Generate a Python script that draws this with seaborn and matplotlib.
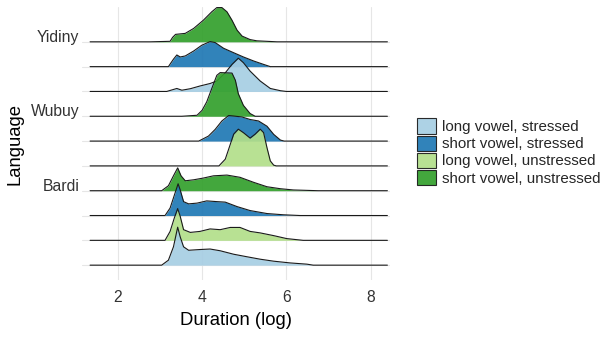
import matplotlib
matplotlib.use("Agg")
import matplotlib.pyplot as plt
import seaborn as sns
import pandas as pd
from matplotlib.patches import Patch

# ridge profiles: duration (log) and ridge height (in row units)
yid_short_unstr_x = [2.77, 3.24, 3.30, 3.37, 3.60, 3.80, 4.03, 4.23, 4.35, 4.47, 4.59, 4.71, 4.83, 4.95, 5.14, 5.30, 5.78]
yid_short_unstr_h = [0.00, 0.02, 0.18, 0.30, 0.34, 0.54, 0.87, 1.21, 1.38, 1.38, 1.21, 0.87, 0.47, 0.23, 0.09, 0.04, 0.00]

yid_short_str_x = [3.20, 3.32, 3.40, 3.48, 3.60, 3.80, 3.99, 4.19, 4.31, 4.51, 4.75, 4.98, 5.22, 5.46, 5.62]
yid_short_str_h = [0.00, 0.30, 0.47, 0.39, 0.43, 0.63, 0.86, 1.01, 0.97, 0.74, 0.56, 0.39, 0.23, 0.09, 0.00]

yid_long_str_x = [3.16, 3.32, 3.40, 3.52, 3.72, 3.95, 4.19, 4.35, 4.55, 4.71, 4.86, 4.98, 5.14, 5.38, 5.62, 5.86, 6.00]
yid_long_str_h = [0.00, 0.08, 0.12, 0.05, 0.11, 0.22, 0.32, 0.42, 0.75, 1.09, 1.34, 1.16, 0.82, 0.42, 0.12, 0.03, 0.00]

wub_short_unstr_x = [3.52, 3.88, 4.00, 4.11, 4.23, 4.35, 4.43, 4.71, 4.79, 4.86, 4.98, 5.14, 5.26]
wub_short_unstr_h = [0.00, 0.04, 0.24, 0.58, 1.12, 1.65, 1.76, 1.74, 1.45, 0.91, 0.44, 0.11, 0.00]

wub_short_str_x = [3.92, 4.15, 4.31, 4.47, 4.63, 4.75, 4.95, 5.14, 5.34, 5.54, 5.70, 5.86, 5.95]
wub_short_str_h = [0.00, 0.20, 0.47, 0.81, 1.03, 1.01, 0.97, 0.87, 0.81, 0.60, 0.27, 0.04, 0.00]

wub_long_unstr_x = [4.40, 4.55, 4.63, 4.75, 4.86, 4.98, 5.14, 5.26, 5.38, 5.46, 5.54, 5.62, 5.70, 5.76]
wub_long_unstr_h = [0.00, 0.27, 0.67, 1.28, 1.48, 1.34, 1.12, 1.28, 1.48, 1.34, 0.74, 0.20, 0.03, 0.00]

bar_short_unstr_x = [3.04, 3.20, 3.32, 3.42, 3.50, 3.60, 3.80, 4.03, 4.27, 4.59, 4.90, 5.22, 5.54, 5.86, 6.17, 6.76]
bar_short_unstr_h = [0.00, 0.20, 0.60, 0.92, 0.60, 0.40, 0.44, 0.51, 0.60, 0.63, 0.54, 0.34, 0.16, 0.08, 0.03, 0.00]

bar_short_str_x = [3.12, 3.24, 3.37, 3.43, 3.48, 3.56, 3.68, 3.88, 4.11, 4.35, 4.55, 4.83, 5.14, 5.54, 5.93, 6.33]
bar_short_str_h = [0.00, 0.30, 0.97, 1.28, 1.03, 0.56, 0.47, 0.50, 0.59, 0.56, 0.54, 0.36, 0.20, 0.08, 0.03, 0.00]

bar_long_unstr_x = [3.12, 3.24, 3.34, 3.42, 3.48, 3.56, 3.72, 3.95, 4.19, 4.43, 4.67, 4.90, 5.14, 5.38, 5.70, 6.01, 6.40]
bar_long_unstr_h = [0.00, 0.36, 0.90, 1.28, 0.97, 0.43, 0.32, 0.36, 0.46, 0.43, 0.52, 0.52, 0.36, 0.30, 0.19, 0.07, 0.00]

bar_long_str_x = [3.04, 3.20, 3.32, 3.42, 3.48, 3.56, 3.68, 3.95, 4.19, 4.43, 4.75, 5.06, 5.38, 5.70, 6.09, 6.49, 6.64]
bar_long_str_h = [0.00, 0.20, 0.74, 1.53, 1.14, 0.74, 0.60, 0.63, 0.65, 0.58, 0.44, 0.34, 0.24, 0.16, 0.09, 0.04, 0.00]

groups = ['long vowel, stressed', 'short vowel, stressed',
          'long vowel, unstressed', 'short vowel, unstressed']

# rows from top to bottom: (profile x, profile h, group)
ridges = [
    (yid_short_unstr_x, yid_short_unstr_h, 'short vowel, unstressed'),
    (yid_short_str_x, yid_short_str_h, 'short vowel, stressed'),
    (yid_long_str_x, yid_long_str_h, 'long vowel, stressed'),
    (wub_short_unstr_x, wub_short_unstr_h, 'short vowel, unstressed'),
    (wub_short_str_x, wub_short_str_h, 'short vowel, stressed'),
    (wub_long_unstr_x, wub_long_unstr_h, 'long vowel, unstressed'),
    (bar_short_unstr_x, bar_short_unstr_h, 'short vowel, unstressed'),
    (bar_short_str_x, bar_short_str_h, 'short vowel, stressed'),
    (bar_long_unstr_x, bar_long_unstr_h, 'long vowel, unstressed'),
    (bar_long_str_x, bar_long_str_h, 'long vowel, stressed'),
]
languages = ['Yidiny', 'Wubuy', 'Bardi']
language_rows = [9, 6, 3]

x_ticks = [2, 4, 6, 8]
line_range = [1.34, 8.40]

sns.set_theme(style='whitegrid')
plt.rcParams['font.family'] = ['Liberation Sans', 'DejaVu Sans']
palette = dict(zip(groups, sns.color_palette('Paired', 4)))

fig = plt.figure(figsize=(6.08, 3.37), dpi=100)
ax = fig.add_axes([0.135, 0.169, 0.507, 0.810])

n = len(ridges)
for i, (xs, hs, grp) in enumerate(ridges):
    base = n - 1 - i
    df = pd.DataFrame({'duration': [line_range[0]] + xs + [line_range[1]],
                       'height': [0] + hs + [0]})
    df['top'] = df['height'] + base
    ax.fill_between(xs, [base] * len(xs), [h + base for h in hs],
                    color=palette[grp], alpha=0.92, lw=0, zorder=2 + 2 * i)
    sns.lineplot(data=df, x='duration', y='top', estimator=None, sort=False,
                 color='#1a1a1a', lw=0.8, ax=ax, zorder=3 + 2 * i)

ax.set_xlim(1.15, 8.47)
ax.set_ylim(-0.6, 10.4)
ax.set_xticks(x_ticks)
ax.set_xticklabels([str(t) for t in x_ticks])
ax.set_yticks(range(n))
ylabels = [''] * n
for lang, row in zip(languages, language_rows):
    ylabels[row] = lang
ax.set_yticklabels(ylabels, va='baseline')
ax.grid(True, color='#e6e6e6', lw=0.8)
ax.set_axisbelow(True)
for s in ax.spines.values():
    s.set_visible(False)
ax.tick_params(axis='x', length=0, pad=7.5, labelsize=11.3, labelcolor='#333333')
ax.tick_params(axis='y', length=0, pad=2, labelsize=11.3, labelcolor='#333333')
ax.set_xlabel('Duration (log)', fontsize=13.3, color='black', labelpad=5)
ax.set_ylabel('Language', fontsize=13.3, color='black', labelpad=5)

handles = [Patch(facecolor=palette[g], edgecolor='#1a1a1a', lw=0.8, alpha=0.92) for g in groups]
fig.legend(handles, groups, loc='center left', bbox_to_anchor=(417 / 608, 1 - 152 / 337),
           frameon=False, fontsize=10.9, handlelength=1.25, handleheight=1.2,
           labelspacing=0.08, handletextpad=0.4, borderpad=0, borderaxespad=0)

fig.savefig('out.png', dpi=100)
